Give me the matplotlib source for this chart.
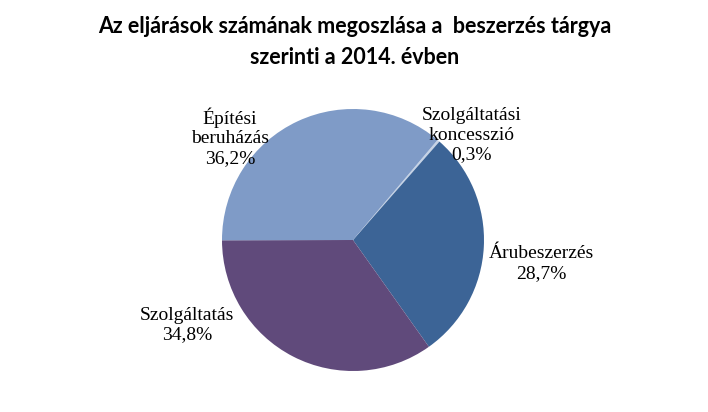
import matplotlib
matplotlib.use("Agg")
import matplotlib.pyplot as plt

categories = ["Szolgáltatási\nkoncesszió", "Árubeszerzés", "Szolgáltatás", "Építési\nberuházás"]
values = [0.3, 28.7, 34.8, 36.2]
colors = ["#C6D3E6", "#3C6496", "#604A7B", "#7F9BC7"]
title = "Az eljárások számának megoszlása a  beszerzés tárgya\nszerinti a 2014. évben"

W, H = 708, 412
fig = plt.figure(figsize=(W / 100, H / 100), dpi=100)
cx, cy, r = 353, 240, 131
ax = fig.add_axes([(cx - r) / W, (H - cy - r) / H, 2 * r / W, 2 * r / H])
ax.pie(values, colors=colors, startangle=49.8, counterclock=False,
       wedgeprops=dict(linewidth=0))
ax.set_xlim(-1, 1)
ax.set_ylim(-1, 1)
ax.set_aspect("equal")
ax.axis("off")

label_pos = [(0.908, 0.80), (1.435, -0.18), (-1.267, -0.65), (-0.94, 0.786)]
for cat, v, (x, y) in zip(categories, values, label_pos):
    ax.text(x, y, f"{cat}\n{v:.1f}%".replace(".", ","), ha="center", va="center",
            fontsize=14, family="Liberation Serif", linespacing=1.2, clip_on=False)

fig.text(355 / W, 1 - 42 / H, title, ha="center", va="center", fontsize=15.5,
         fontweight="bold", family="Lato", linespacing=1.6)

fig.savefig("out.png", dpi=100)
